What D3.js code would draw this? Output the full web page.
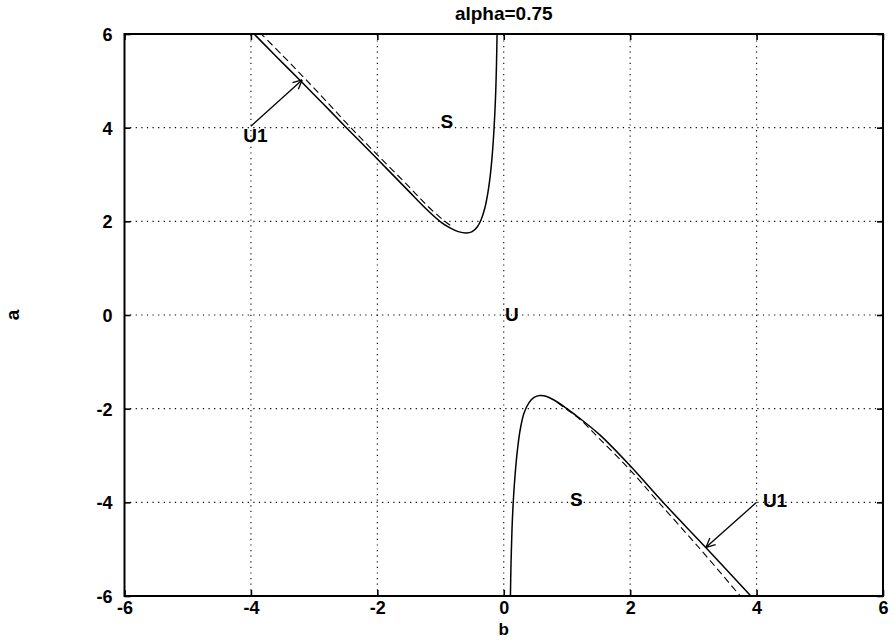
<!DOCTYPE html>
<html>
<head>
<meta charset="utf-8">
<script src="https://cdn.jsdelivr.net/npm/d3@7"></script>
<style>
  html, body { margin: 0; padding: 0; background: #fff; }
  svg { display: block; }
  text { font-family: "Liberation Sans", Arial, Helvetica, sans-serif; font-weight: bold; fill: #000; }
</style>
</head>
<body>
<svg id="chart" width="895" height="641"></svg>
<script>
// ---------------- data ----------------
const titleText = "alpha=0.75";
const xLabel = "b";
const yLabel = "a";
const xTicks = [-6, -4, -2, 0, 2, 4, 6];
const yTicks = [-6, -4, -2, 0, 2, 4, 6];

// upper branch (solid): [b, a]
const upperSolid = [
  [-3.97, 6.03], [-3.6, 5.52], [-3.2, 4.98], [-2.85, 4.5], [-2.49, 4.0], [-2.0, 3.33],
  [-1.5, 2.64], [-1.2, 2.23], [-1.0, 1.99], [-0.85, 1.86], [-0.72, 1.78], [-0.59, 1.75],
  [-0.5, 1.78], [-0.42, 1.88], [-0.36, 2.03], [-0.30, 2.28], [-0.25, 2.62],
  [-0.21, 3.02], [-0.18, 3.45], [-0.155, 3.95], [-0.13, 4.65], [-0.115, 5.35], [-0.105, 6.05]
];
// upper branch (dashed)
const upperDashed = [
  [-3.86, 6.03], [-3.49, 5.53], [-3.14, 5.04], [-2.79, 4.54], [-2.42, 4.0], [-2.0, 3.42],
  [-1.5, 2.74], [-1.2, 2.32], [-0.95, 2.02], [-0.8, 1.87]
];
// lower branch (solid)
const lowerSolid = [
  [0.105, -6.05], [0.115, -5.3], [0.13, -4.6], [0.15, -4.0], [0.18, -3.4], [0.215, -2.9],
  [0.26, -2.45], [0.32, -2.1], [0.4, -1.87], [0.48, -1.76], [0.57, -1.72], [0.68, -1.74],
  [0.8, -1.82], [0.97, -1.97], [1.1, -2.1], [1.52, -2.56], [2.0, -3.22], [2.52, -4.0],
  [3.2, -4.97], [3.93, -6.03]
];
// lower branch (dashed)
const lowerDashed = [
  [0.85, -1.87], [1.0, -2.02], [1.2, -2.22], [1.52, -2.65], [2.0, -3.31],
  [2.45, -4.0], [3.09, -4.97], [3.76, -6.03]
];
// annotation arrows: [fromB, fromA, toB, toA]
const arrows = [
  [-4.0, 4.03, -3.19, 5.02],
  [4.0, -4.0, 3.2, -4.96]
];
// region labels: [text, b, a, anchor]
const regionLabels = [
  ["U1", -4.12, 3.83, "start"],
  ["S", -0.9, 4.13, "middle"],
  ["U", 0.13, 0.02, "middle"],
  ["S", 1.15, -3.93, "middle"],
  ["U1", 4.1, -3.95, "start"]
];

// ---------------- drawing ----------------
const svg = d3.select("#chart");
const x = d3.scaleLinear().domain([-6, 6]).range([124.5, 883]);
const y = d3.scaleLinear().domain([-6, 6]).range([596, 34]);
const [x0, x1] = x.range();
const [y0, y1] = y.range();

// grid
const grid = svg.append("g");
xTicks.slice(1, -1).forEach(t => {
  grid.append("line").attr("x1", x(t)).attr("x2", x(t)).attr("y1", y0).attr("y2", y1)
    .attr("stroke", "#000").attr("stroke-width", 1.1).attr("stroke-dasharray", "1.2,4.4");
});
yTicks.slice(1, -1).forEach(t => {
  grid.append("line").attr("x1", x0).attr("x2", x1).attr("y1", y(t)).attr("y2", y(t))
    .attr("stroke", "#000").attr("stroke-width", 1.1).attr("stroke-dasharray", "1.2,4.4");
});

// axes (ticks inward, labels)
const fmt = d => String(d);
const xAxisB = d3.axisBottom(x).tickValues(xTicks).tickSizeInner(-6).tickSizeOuter(0).tickPadding(10).tickFormat(fmt);
const xAxisT = d3.axisTop(x).tickValues(xTicks).tickSizeInner(-6).tickSizeOuter(0).tickFormat("");
const yAxisL = d3.axisLeft(y).tickValues(yTicks).tickSizeInner(-6).tickSizeOuter(0).tickPadding(12).tickFormat(fmt);
const yAxisR = d3.axisRight(y).tickValues(yTicks).tickSizeInner(-6).tickSizeOuter(0).tickFormat("");

function styleAxis(g) {
  g.select(".domain").remove();
  g.selectAll(".tick line").attr("stroke", "#000").attr("stroke-width", 1.6);
  g.selectAll(".tick text").style("font-size", "18px").style("font-weight", "bold")
    .style("font-family", "'Liberation Sans', Arial, sans-serif").attr("fill", "#000");
}
const gxb = svg.append("g").attr("transform", `translate(0,${y0})`).call(xAxisB).call(styleAxis);
svg.append("g").attr("transform", `translate(0,${y1})`).call(xAxisT).call(styleAxis);
const gyl = svg.append("g").attr("transform", `translate(${x0},0)`).call(yAxisL).call(styleAxis);
svg.append("g").attr("transform", `translate(${x1},0)`).call(yAxisR).call(styleAxis);
gxb.selectAll(".tick text").attr("y", 18).attr("dy", null);
gyl.selectAll(".tick text").attr("x", -12).attr("dy", "0.36em");

// frame
svg.append("rect").attr("x", x0).attr("y", y1).attr("width", x1 - x0).attr("height", y0 - y1)
  .attr("fill", "none").attr("stroke", "#000").attr("stroke-width", 2);

// curves
svg.append("clipPath").attr("id", "clip").append("rect")
  .attr("x", x0).attr("y", y1).attr("width", x1 - x0).attr("height", y0 - y1);
const line = d3.line().x(d => x(d[0])).y(d => y(d[1])).curve(d3.curveCatmullRom.alpha(0.5));
const plot = svg.append("g").attr("clip-path", "url(#clip)");
[upperSolid, lowerSolid].forEach(s => {
  plot.append("path").attr("d", line(s)).attr("fill", "none").attr("stroke", "#000").attr("stroke-width", 1.5);
});
[upperDashed, lowerDashed].forEach(s => {
  plot.append("path").attr("d", line(s)).attr("fill", "none").attr("stroke", "#000")
    .attr("stroke-width", 1.1).attr("stroke-dasharray", "7,4");
});

// arrows
arrows.forEach(([fb, fa, tb, ta]) => {
  const X1 = x(fb), Y1 = y(fa), X2 = x(tb), Y2 = y(ta);
  plot.append("line").attr("x1", X1).attr("y1", Y1).attr("x2", X2).attr("y2", Y2)
    .attr("stroke", "#000").attr("stroke-width", 1.3);
  const ang = Math.atan2(Y2 - Y1, X2 - X1);
  const L = 10, spread = 0.45;
  [ang + Math.PI - spread, ang + Math.PI + spread].forEach(a2 => {
    plot.append("line").attr("x1", X2).attr("y1", Y2)
      .attr("x2", X2 + L * Math.cos(a2)).attr("y2", Y2 + L * Math.sin(a2))
      .attr("stroke", "#000").attr("stroke-width", 1.3);
  });
});

// region labels
regionLabels.forEach(([t, b, a, anc]) => {
  svg.append("text").attr("x", x(b)).attr("y", y(a)).attr("dy", "0.36em")
    .attr("text-anchor", anc).style("font-size", "19px").text(t);
});

// title and axis labels
svg.append("text").attr("x", (x0 + x1) / 2).attr("y", 20).attr("text-anchor", "middle")
  .style("font-size", "19px").text(titleText);
svg.append("text").attr("x", x(0)).attr("y", 635).attr("text-anchor", "middle")
  .style("font-size", "17px").text(xLabel);
svg.append("text").attr("transform", `translate(19,${y(0)}) rotate(-90)`).attr("text-anchor", "middle")
  .style("font-size", "19px").text(yLabel);
</script>
</body>
</html>
